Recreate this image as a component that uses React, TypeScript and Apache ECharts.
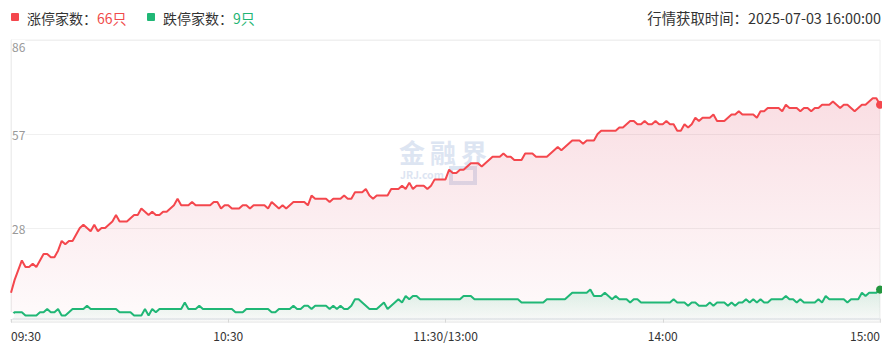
import React, { useEffect, useRef } from 'react';
import * as echarts from 'echarts';

const limitUpCount = 66;
const limitDownCount = 9;
const updateTime = '2025-07-03 16:00:00';

const tickCategories = ['09:30', '10:30', '11:30', '14:00', '15:00'];
const tickLabels = ['09:30', '10:30', '11:30/13:00', '14:00', '15:00'];

const yMin = -1;
const yMax = 86;
const yInterval = 29;

// 涨停家数 per minute (09:30 … 11:30, 13:01 … 15:00)
const limitUp = [
  8, 12, 15, 18, 16, 16, 17, 16, 18, 20,
  20, 19, 19, 21, 24, 23, 24, 24, 26, 28,
  29, 28, 27, 29, 27, 28, 28, 29, 30, 32,
  30, 30, 30, 31, 32, 32, 34, 33, 32, 33,
  32, 32, 33, 33, 34, 35, 37, 35, 35, 35,
  36, 35, 35, 35, 35, 35, 36, 36, 34, 35,
  35, 34, 34, 34, 35, 35, 34, 35, 35, 35,
  35, 34, 36, 35, 34, 35, 34, 35, 36, 36,
  36, 36, 35, 38, 37, 37, 37, 37, 36, 37,
  37, 37, 38, 37, 37, 39, 39, 39, 40, 38,
  37, 38, 38, 38, 38, 40, 40, 40, 41, 40,
  42, 40, 41, 41, 41, 40, 41, 43, 43, 43,
  43, 46, 45, 45, 46, 46, 47, 48, 48, 48,
  47, 48, 49, 50, 50, 50, 51, 50, 50, 49,
  49, 49, 51, 51, 51, 50, 50, 50, 50, 51,
  52, 53, 52, 53, 54, 55, 55, 55, 54, 55,
  55, 55, 57, 58, 58, 58, 58, 58, 59, 59,
  60, 61, 61, 60, 60, 61, 60, 60, 61, 60,
  60, 61, 60, 60, 58, 58, 60, 59, 60, 62,
  61, 62, 62, 62, 63, 61, 61, 61, 62, 63,
  63, 64, 63, 63, 63, 63, 62, 64, 64, 65,
  65, 65, 65, 64, 66, 65, 65, 65, 64, 65,
  65, 64, 65, 65, 66, 66, 66, 67, 66, 65,
  66, 66, 65, 64, 65, 66, 66, 67, 68, 68, 66,
];

// 跌停家数 per minute
const limitDown = [
  1, 2, 2, 2, 1, 1, 1, 1, 2, 2,
  3, 2, 2, 3, 1, 1, 2, 3, 3, 3,
  3, 4, 3, 3, 3, 3, 3, 3, 3, 3,
  2, 2, 2, 2, 1, 1, 1, 3, 1, 3,
  2, 3, 3, 3, 3, 3, 3, 3, 5, 3,
  3, 3, 4, 3, 3, 3, 3, 3, 3, 3,
  3, 3, 2, 2, 2, 3, 3, 3, 3, 3,
  3, 3, 2, 2, 3, 3, 3, 3, 4, 3,
  3, 4, 4, 3, 4, 4, 4, 4, 3, 4,
  3, 4, 3, 3, 4, 6, 6, 5, 4, 3,
  3, 3, 4, 5, 3, 4, 5, 6, 5, 7,
  6, 7, 7, 6, 6, 6, 6, 6, 6, 6,
  6, 6, 6, 6, 6, 7, 7, 7, 6, 6,
  6, 6, 6, 6, 6, 6, 6, 6, 6, 6,
  6, 5, 5, 5, 5, 5, 5, 5, 6, 6,
  6, 6, 6, 6, 7, 8, 8, 8, 8, 8,
  9, 7, 7, 7, 8, 7, 6, 7, 6, 6,
  6, 5, 6, 6, 5, 5, 5, 5, 5, 5,
  5, 5, 5, 6, 5, 5, 5, 4, 5, 5,
  4, 4, 4, 5, 4, 5, 5, 5, 4, 5,
  4, 5, 5, 6, 5, 6, 5, 6, 5, 5,
  6, 6, 6, 6, 7, 6, 6, 5, 6, 5,
  5, 5, 5, 6, 5, 7, 6, 6, 6, 6,
  6, 5, 6, 6, 6, 8, 7, 8, 8, 8, 9,
];

const watermarkChars = ['金', '融', '界'];
const watermarkSub = 'JRJ.com';

function buildCategories(): string[] {
  const out: string[] = [];
  const fmt = (m: number) =>
    `${String(Math.floor(m / 60)).padStart(2, '0')}:${String(m % 60).padStart(2, '0')}`;
  for (let m = 570; m <= 690; m++) out.push(fmt(m));
  for (let m = 781; m <= 900; m++) out.push(fmt(m));
  return out;
}

const RED = '#f4474d';
const GREEN = '#20b776';
const WM = '#dde5f2';
const FONT = '"Noto Sans CJK SC", "Noto Sans", sans-serif';

export default function App() {
  const ref = useRef<HTMLDivElement>(null);

  useEffect(() => {
    document.body.style.margin = '0';
    if (!ref.current) return;
    const chart = echarts.init(ref.current, null, { renderer: 'svg' });
    const categories = buildCategories();
    const lastUp = limitUp.length - 1;
    const lastDown = limitDown.length - 1;

    const watermark: any[] = watermarkChars.map((ch, k) => ({
      type: 'text',
      x: 412 + k * 31,
      y: 151,
      z: 0,
      style: {
        text: ch,
        font: `bold 26px ${FONT}`,
        lineHeight: 22,
        fill: WM,
        align: 'center',
        verticalAlign: 'middle',
      },
    }));
    watermark.push(
      {
        type: 'text',
        x: 400,
        y: 174.5,
        z: 0,
        style: {
          text: watermarkSub,
          font: `bold 10.5px ${FONT}`,
          lineHeight: 8,
          fill: WM,
          align: 'left',
          verticalAlign: 'middle',
        },
      },
      {
        type: 'rect',
        z: 0,
        shape: { x: 451, y: 168, width: 24, height: 15 },
        style: { fill: 'none', stroke: WM, lineWidth: 4 },
      }
    );

    const option: any = {
      animation: false,
      backgroundColor: '#fff',
      textStyle: { fontFamily: FONT },
      grid: {
        left: 11,
        right: 9,
        top: 40,
        bottom: 31,
        show: true,
        borderColor: '#eeeeee',
        borderWidth: 1,
      },
      xAxis: {
        type: 'category',
        data: categories,
        boundaryGap: false,
        axisLine: { lineStyle: { color: '#eceef2', width: 2 } },
        axisTick: {
          show: true,
          interval: (i: number, v: string) => tickCategories.includes(v),
          length: 4,
          lineStyle: { color: '#dddddd' },
        },
        axisLabel: {
          interval: (i: number, v: string) => tickCategories.includes(v),
          formatter: (v: string) => {
            const k = tickCategories.indexOf(v);
            return k >= 0 ? tickLabels[k] : '';
          },
          color: '#333',
          fontSize: 12,
          fontFamily: FONT,
          margin: 7,
          alignMinLabel: 'left',
          alignMaxLabel: 'right',
        },
        splitLine: { show: false },
      },
      yAxis: {
        type: 'value',
        min: yMin,
        max: yMax,
        interval: yInterval,
        axisLine: { show: true, lineStyle: { color: '#eeeeee' } },
        axisTick: { show: false },
        axisLabel: {
          inside: true,
          margin: 1,
          color: '#999',
          fontSize: 12,
          fontFamily: FONT,
          showMinLabel: false,
          verticalAlignMaxLabel: 'top',
          backgroundColor: '#fff',
        },
        splitLine: { lineStyle: { color: '#f0f0f0' } },
      },
      graphic: [
        ...watermark,
        {
          type: 'rect',
          shape: { x: 11, y: 13, width: 8, height: 8, r: 1 },
          style: { fill: RED },
        },
        {
          type: 'text',
          x: 27,
          y: 17.5,
          style: {
            text: '涨停家数：',
            font: `14px ${FONT}`,
            fill: '#333',
            verticalAlign: 'middle',
          },
        },
        {
          type: 'text',
          x: 97,
          y: 17.5,
          style: {
            text: `${limitUpCount}只`,
            font: `14px ${FONT}`,
            fill: '#f04a4a',
            verticalAlign: 'middle',
          },
        },
        {
          type: 'rect',
          shape: { x: 147, y: 13, width: 8, height: 8, r: 1 },
          style: { fill: GREEN },
        },
        {
          type: 'text',
          x: 163,
          y: 17.5,
          style: {
            text: '跌停家数：',
            font: `14px ${FONT}`,
            fill: '#333',
            verticalAlign: 'middle',
          },
        },
        {
          type: 'text',
          x: 233,
          y: 17.5,
          style: {
            text: `${limitDownCount}只`,
            font: `14px ${FONT}`,
            fill: '#1fb574',
            verticalAlign: 'middle',
          },
        },
        {
          type: 'text',
          x: 881,
          y: 17.5,
          style: {
            text: `行情获取时间：${updateTime}`,
            font: `14.4px ${FONT}`,
            fill: '#333',
            align: 'right',
            verticalAlign: 'middle',
          },
        },
        {
          type: 'rect',
          z: 100,
          shape: { x: 882, y: 42, width: 7, height: 278 },
          style: { fill: '#fff' },
        },
      ],
      series: [
        {
          type: 'line',
          name: '涨停家数',
          symbol: 'none',
          showAllSymbol: true,
          data: limitUp.map((v, i) =>
            i === lastUp
              ? { value: v, symbol: 'circle', symbolSize: 8, itemStyle: { color: RED } }
              : v
          ),
          lineStyle: { color: RED, width: 2 },
          itemStyle: { color: RED },
          areaStyle: {
            origin: 'start',
            color: new echarts.graphic.LinearGradient(0, 0, 0, 1, [
              { offset: 0, color: 'rgba(222,60,90,0.24)' },
              { offset: 1, color: 'rgba(222,60,90,0.03)' },
            ]),
          },
          z: 2,
        },
        {
          type: 'line',
          name: '跌停家数',
          symbol: 'none',
          showAllSymbol: true,
          data: limitDown.map((v, i) => {
            if (i === lastDown)
              return { value: v, symbol: 'circle', symbolSize: 8, itemStyle: { color: '#24963f' } };
            if (i === 0)
              return {
                value: v,
                symbol: 'emptyCircle',
                symbolSize: 5,
                itemStyle: { color: '#fff', borderColor: '#9a9a9a', borderWidth: 1 },
              };
            return v;
          }),
          lineStyle: { color: GREEN, width: 2 },
          itemStyle: { color: GREEN },
          areaStyle: {
            origin: 'start',
            color: new echarts.graphic.LinearGradient(0, 0, 0, 1, [
              { offset: 0, color: 'rgba(32,183,118,0.22)' },
              { offset: 1, color: 'rgba(32,183,118,0.03)' },
            ]),
          },
          z: 3,
        },
      ],
    };

    chart.setOption(option);
    return () => chart.dispose();
  }, []);

  return <div ref={ref} style={{ width: 889, height: 353 }} />;
}
